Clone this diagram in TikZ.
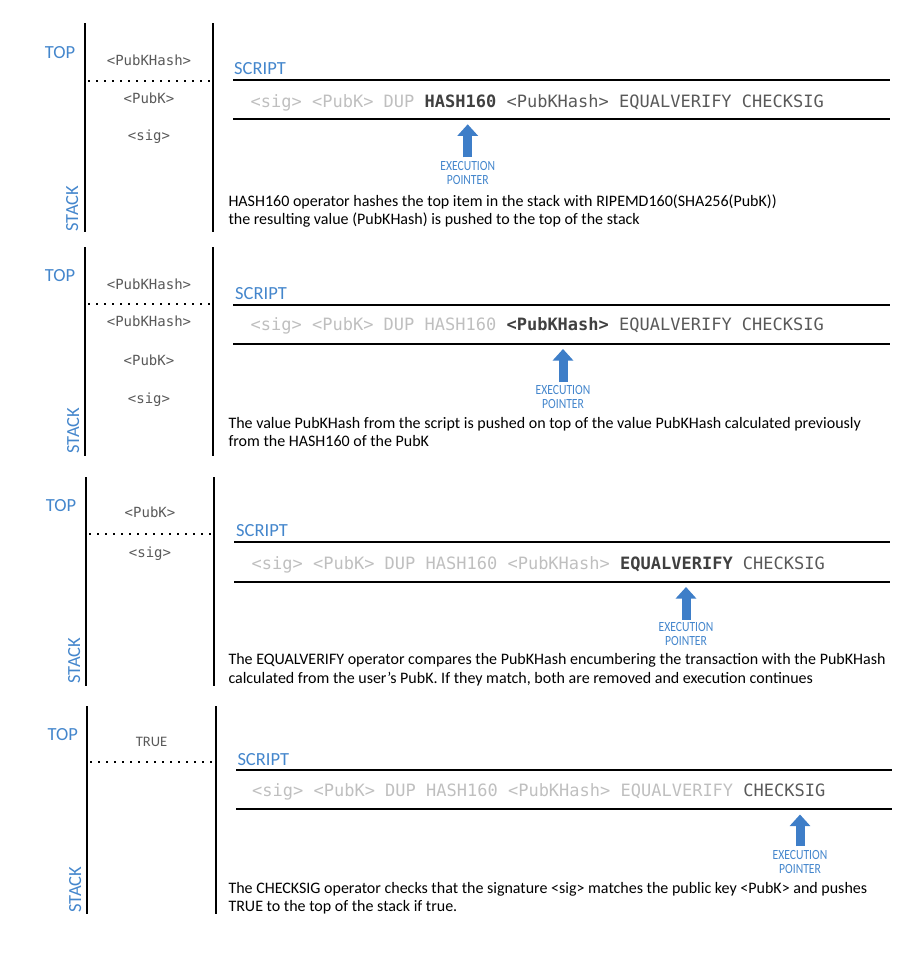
\documentclass[tikz,border=0pt]{standalone}
\usepackage{fontspec}
\setmainfont{Carlito}
\newfontfamily\codefont{DejaVu Sans Mono}
\newfontfamily\narrowfont[FakeStretch=0.83]{Carlito}
\usetikzlibrary{arrows.meta}
\definecolor{labelblue}{RGB}{68,134,204}
\definecolor{ptrblue}{RGB}{62,126,200}
\definecolor{itemgray}{RGB}{89,89,89}
\definecolor{donegray}{RGB}{191,191,191}
\definecolor{curgray}{RGB}{64,64,64}

\begin{document}
\begin{tikzpicture}[x=1pt, y=-1pt,
    every node/.style={inner sep=0pt},
    headtag/.style={text=labelblue, font=\fontsize{18.5}{20}\selectfont},
    stackitem/.style={text=itemgray, font=\fontsize{14}{16}\codefont, anchor=base},
    codeline/.style={text=itemgray, font=\fontsize{17}{20}\codefont, anchor=base west},
    note/.style={font=\fontsize{16}{18.7}\selectfont, anchor=base west, align=left},
    ptrtext/.style={text=labelblue, font=\fontsize{14}{12}\narrowfont, anchor=base},
    execptr/.style={draw=ptrblue, line width=9pt, -{Triangle[width=20pt,length=11.5pt]}},
    bar/.style={line width=2pt},
    dotsep/.style={line width=1.8pt, dash pattern=on 1.8pt off 6.2pt}]
    \useasboundingbox (0,0) rectangle (917,957);

    % Panel 1: HASH160
    \draw[bar] (84.7,23.3) -- (84.7,231.7);
    \draw[bar] (213.3,23.3) -- (213.3,231.7);
    \node[headtag, anchor=base] (top1) at (60,58.3) {TOP};
    \node[headtag, rotate=90, anchor=base west] (stack1) at (78,232) {STACK};
    \node[stackitem] (s1a) at (149,65.7) {<PubKHash>};
    \draw[dotsep] (88,81) -- (213,81);
    \node[stackitem] (s1b) at (149,103.3) {<PubK>};
    \node[stackitem] (s1c) at (149,140.8) {<sig>};
    \node[headtag, anchor=base west] (script1) at (234,75) {SCRIPT};
    \draw[bar] (233,80.5) -- (890,80.5);
    \node[codeline] (code1) at (250.5,107.3) {\color{donegray}<sig> <PubK> DUP \color{curgray}\textbf{HASH160} \color{itemgray}<PubKHash> EQUALVERIFY CHECKSIG};
    \draw[bar] (233,119.3) -- (890,119.3);
    \coordinate (p1a) at (467.7,157.3);
    \coordinate (p1b) at (467.7,124.3);
    \draw[execptr] (p1a) -- (p1b);
    \node[ptrtext] (e1a) at (467.7,170.5) {EXECUTION};
    \node[ptrtext] (e1b) at (467.7,184.5) {POINTER};
    \node[note] (n1) at (228.3,225) {HASH160 operator hashes the top item in the stack with RIPEMD160(SHA256(PubK))\\the resulting value (PubKHash) is pushed to the top of the stack};

    % Panel 2: push PubKHash
    \draw[bar] (84.7,247.3) -- (84.7,456);
    \draw[bar] (213.3,247.3) -- (213.3,456);
    \node[headtag, anchor=base] (top2) at (60,281.7) {TOP};
    \node[headtag, rotate=90, anchor=base west] (stack2) at (79,454) {STACK};
    \node[stackitem] (s2a) at (149,289) {<PubKHash>};
    \draw[dotsep] (88,304) -- (213,304);
    \node[stackitem] (s2b) at (149,326.7) {<PubKHash>};
    \node[stackitem] (s2c) at (149,365) {<PubK>};
    \node[stackitem] (s2d) at (149,403.3) {<sig>};
    \node[headtag, anchor=base west] (script2) at (235,299) {SCRIPT};
    \draw[bar] (233,304.5) -- (890,304.5);
    \node[codeline] (code2) at (250.5,330.5) {\color{donegray}<sig> <PubK> DUP HASH160 \color{curgray}\textbf{<PubKHash>} \color{itemgray}EQUALVERIFY CHECKSIG};
    \draw[bar] (233,344) -- (890,344);
    \coordinate (p2a) at (563,382);
    \coordinate (p2b) at (563,349);
    \draw[execptr] (p2a) -- (p2b);
    \node[ptrtext] (e2a) at (563,394.5) {EXECUTION};
    \node[ptrtext] (e2b) at (563,408.5) {POINTER};
    \node[note] (n2) at (228.3,446.7) {The value PubKHash from the script is pushed on top of the value PubKHash calculated previously\\from the HASH160 of the PubK};

    % Panel 3: EQUALVERIFY
    \draw[bar] (85.7,477.3) -- (85.7,686);
    \draw[bar] (214.3,477.3) -- (214.3,686);
    \node[headtag, anchor=base] (top3) at (61,511.7) {TOP};
    \node[headtag, rotate=90, anchor=base west] (stack3) at (80,684) {STACK};
    \node[stackitem] (s3a) at (150,517.7) {<PubK>};
    \draw[dotsep] (89,534) -- (214,534);
    \node[stackitem] (s3b) at (150,557) {<sig>};
    \node[headtag, anchor=base west] (script3) at (236,536.7) {SCRIPT};
    \draw[bar] (234,541.7) -- (890,541.7);
    \node[codeline] (code3) at (251.5,569.5) {\color{donegray}<sig> <PubK> DUP HASH160 <PubKHash> \color{curgray}\textbf{EQUALVERIFY} \color{itemgray}CHECKSIG};
    \draw[bar] (234,581.5) -- (890,581.5);
    \coordinate (p3a) at (686,619.5);
    \coordinate (p3b) at (686,587);
    \draw[execptr] (p3a) -- (p3b);
    \node[ptrtext] (e3a) at (686,631.5) {EXECUTION};
    \node[ptrtext] (e3b) at (686,645.5) {POINTER};
    \node[note] (n3) at (228.3,683.3) {\makebox[657pt][s]{The EQUALVERIFY operator compares the PubKHash encumbering the transaction with the PubKHash}\\calculated from the user’s PubK. If they match, both are removed and execution continues};

    % Panel 4: CHECKSIG
    \draw[bar] (86.7,706) -- (86.7,914);
    \draw[bar] (215.7,706) -- (215.7,914);
    \node[headtag, anchor=base] (top4) at (62.7,740) {TOP};
    \node[headtag, rotate=90, anchor=base west] (stack4) at (81,913) {STACK};
    \node[stackitem, font=\fontsize{14.5}{16}\selectfont] (s4a) at (151.5,746.7) {TRUE};
    \draw[dotsep] (90,762.3) -- (215,762.3);
    \node[headtag, anchor=base west] (script4) at (237.3,765) {SCRIPT};
    \draw[bar] (236,770) -- (892,770);
    \node[codeline] (code4) at (252,796.5) {\color{donegray}<sig> <PubK> DUP HASH160 <PubKHash> EQUALVERIFY \color{itemgray}CHECKSIG};
    \draw[bar] (236,809) -- (892,809);
    \coordinate (p4a) at (800,846);
    \coordinate (p4b) at (800,814.5);
    \draw[execptr] (p4a) -- (p4b);
    \node[ptrtext] (e4a) at (800,859) {EXECUTION};
    \node[ptrtext] (e4b) at (800,873) {POINTER};
    \node[note] (n4) at (228.3,911.7) {The CHECKSIG operator checks that the signature <sig> matches the public key <PubK> and pushes\\TRUE to the top of the stack if true.};
\end{tikzpicture}
\end{document}
